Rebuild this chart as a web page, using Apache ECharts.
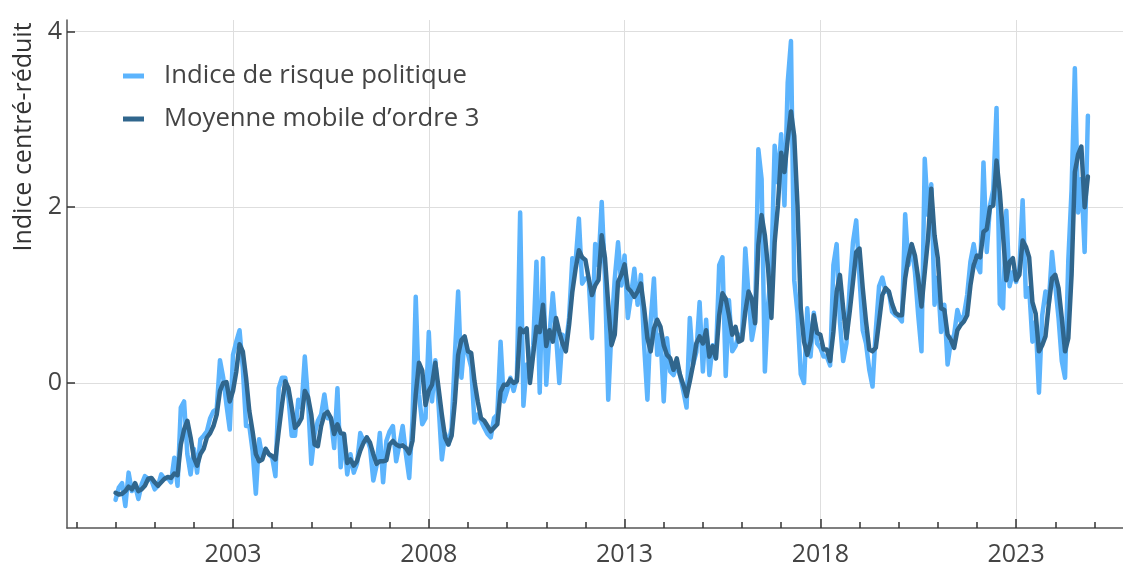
<!DOCTYPE html>
<html><head><meta charset="utf-8">
<script src="https://cdn.jsdelivr.net/npm/echarts@6/dist/echarts.min.js"></script>
<style>html,body{margin:0;padding:0;background:#fff}#c{width:1123px;height:567px}</style>
</head><body><div id="c"></div>
<script>
// Monthly data, first month = January 2000
const startYear = 2000;
const seriesNames = ['Indice de risque politique', 'Moyenne mobile d’ordre 3'];

const indexValues = [
-1.33,-1.19,-1.14,-1.40,-1.02,-1.23,-1.17,-1.32,-1.15,-1.06,
-1.09,-1.11,-1.21,-1.17,-1.04,-1.09,-1.08,-1.13,-0.85,-1.17,
-0.28,-0.21,-0.81,-1.04,-0.75,-1.02,-0.64,-0.60,-0.55,-0.40,
-0.32,-0.30,0.26,0.06,-0.25,-0.53,0.32,0.47,0.60,0.17,
-0.49,-0.49,-0.77,-1.26,-0.64,-0.85,-0.75,-0.81,-0.85,-1.06,
-0.06,0.06,0.06,-0.17,-0.60,-0.60,-0.19,-0.28,0.30,-0.20,
-0.92,-0.58,-0.43,-0.36,-0.13,-0.40,-0.40,-0.74,-0.06,-0.96,
-0.58,-1.04,-0.81,-1.02,-0.92,-0.57,-0.66,-0.62,-0.74,-1.11,
-0.94,-0.57,-1.13,-0.66,-0.55,-0.49,-0.89,-0.70,-0.49,-0.81,
-1.08,-0.43,0.98,-0.13,-0.47,-0.40,0.58,-0.21,0.26,-0.25,
-0.87,-0.58,-0.70,-0.51,0.32,1.04,0.06,0.51,0.33,0.18,
-0.45,-0.36,-0.43,-0.51,-0.58,-0.62,-0.40,-0.36,0.47,-0.21,
-0.09,0.06,-0.09,0.06,1.94,-0.26,0.21,0.06,0.43,1.38,
-0.11,1.42,-0.02,0.55,1.02,0.55,0.00,0.55,0.43,0.74,
1.42,1.38,1.87,1.13,1.19,1.19,0.51,1.58,1.34,2.06,
1.19,-0.19,0.62,1.19,1.60,1.11,1.45,0.74,1.00,1.30,
0.89,1.23,0.43,-0.19,0.70,1.19,0.32,0.55,-0.21,0.51,
0.13,0.09,0.21,0.09,-0.09,-0.28,0.74,0.21,0.35,0.92,
0.13,0.72,0.09,0.43,0.28,1.34,1.43,0.08,0.94,0.36,
0.42,0.55,0.50,1.53,1.00,0.49,0.70,2.66,2.32,0.13,
0.90,1.30,2.70,2.28,2.83,2.02,3.42,3.89,1.17,0.80,
0.10,0.00,0.85,0.30,0.80,0.45,0.40,0.30,0.30,0.20,
1.34,1.58,0.70,0.25,0.45,1.10,1.60,1.85,1.20,0.60,
0.45,0.15,-0.04,0.60,1.10,1.20,1.04,1.04,0.81,0.77,
0.75,0.70,1.92,1.34,1.57,1.26,0.77,0.36,2.55,1.91,
2.26,0.89,1.20,0.58,0.89,0.21,0.47,0.55,0.83,0.70,
0.77,1.00,1.38,1.58,1.34,1.26,2.51,1.49,2.02,2.20,
3.13,0.90,0.85,1.96,1.10,1.26,1.15,1.30,2.08,0.98,
1.08,0.47,0.70,-0.11,0.77,1.04,0.90,1.49,1.11,0.74,
0.25,0.06,1.40,2.20,3.58,1.94,2.32,1.49,3.04
];

const movingAverage = [
-1.25,-1.27,-1.26,-1.23,-1.18,-1.21,-1.14,-1.23,-1.21,-1.17,
-1.09,-1.08,-1.13,-1.17,-1.13,-1.09,-1.07,-1.08,-1.03,-1.05,
-0.70,-0.53,-0.43,-0.62,-0.85,-0.94,-0.81,-0.75,-0.62,-0.57,
-0.49,-0.36,-0.09,0.00,0.01,-0.21,-0.09,0.13,0.44,0.36,
0.06,-0.32,-0.55,-0.81,-0.89,-0.87,-0.75,-0.81,-0.83,-0.87,
-0.55,-0.25,0.02,-0.06,-0.28,-0.51,-0.47,-0.40,-0.09,-0.16,
-0.36,-0.70,-0.72,-0.49,-0.36,-0.33,-0.40,-0.58,-0.47,-0.57,
-0.58,-0.91,-0.87,-0.94,-0.89,-0.77,-0.68,-0.62,-0.68,-0.81,
-0.92,-0.89,-0.89,-0.88,-0.70,-0.66,-0.70,-0.72,-0.71,-0.74,
-0.80,-0.66,-0.13,0.23,0.14,-0.25,-0.09,-0.02,0.23,-0.06,
-0.36,-0.62,-0.70,-0.60,-0.21,0.32,0.49,0.53,0.36,0.34,
0.02,-0.21,-0.40,-0.43,-0.49,-0.55,-0.51,-0.47,-0.10,-0.02,
-0.02,0.04,0.00,0.02,0.62,0.58,0.62,0.00,0.32,0.64,
0.58,0.89,0.42,0.60,0.47,0.74,0.58,0.45,0.36,0.66,
1.04,1.30,1.51,1.43,1.40,1.19,1.00,1.11,1.17,1.68,
1.42,0.89,0.43,0.55,1.15,1.23,1.35,1.08,1.04,0.98,
1.04,1.13,0.85,0.51,0.36,0.62,0.72,0.64,0.43,0.32,
0.28,0.15,0.28,0.09,-0.02,-0.15,0.02,0.21,0.45,0.53,
0.45,0.60,0.30,0.42,0.28,0.77,1.02,0.96,0.77,0.55,
0.64,0.47,0.49,0.81,1.04,0.96,0.68,1.57,1.91,1.68,
1.30,0.74,1.60,2.02,2.62,2.40,2.77,3.09,2.81,2.02,
0.85,0.47,0.32,0.47,0.77,0.57,0.55,0.38,0.38,0.25,
0.58,1.04,1.23,0.85,0.51,0.81,1.15,1.49,1.53,1.08,
0.70,0.38,0.36,0.40,0.70,1.00,1.08,1.04,0.90,0.80,
0.77,0.77,1.19,1.42,1.58,1.45,1.19,0.87,1.26,1.64,
2.21,1.68,1.42,0.85,0.83,0.55,0.49,0.40,0.60,0.66,
0.70,0.77,1.11,1.34,1.45,1.43,1.72,1.75,2.00,2.02,
2.53,2.17,1.68,1.17,1.38,1.42,1.17,1.23,1.62,1.55,
1.43,0.92,0.79,0.36,0.43,0.53,0.89,1.19,1.23,1.08,
0.74,0.36,0.51,1.23,2.40,2.60,2.69,2.00,2.35
];

const yearTicks = [1999,2000,2001,2002,2003,2004,2005,2006,2007,2008,2009,2010,2011,2012,2013,2014,2015,2016,2017,2018,2019,2020,2021,2022,2023,2024,2025];
const yearLabels = [2003, 2008, 2013, 2018, 2023];
const yTicks = [0, 2, 4];

const lightColor = '#5cb4fd';
const darkColor = '#30668d';
const xMin = 1998.76, xMax = 2025.73;
const yMin = -1.65, yMax = 4.13;
const font = 'Open Sans';

const toPoints = arr => arr.map((v, i) => [startYear + i / 12, v]);

const chart = echarts.init(document.getElementById('c'), null, {renderer: 'canvas'});
chart.setOption({
  animation: false,
  backgroundColor: '#ffffff',
  textStyle: {fontFamily: font},
  grid: {left: 67, right: 0, top: 20, bottom: 36.5},
  legend: {
    orient: 'vertical', left: 123, top: 63, padding: 0,
    itemWidth: 21, itemHeight: 5, itemGap: 17,
    textStyle: {fontSize: 25.7, color: '#444', fontFamily: font, padding: [0, 0, 0, 15], lineHeight: 26},
    data: [
      {name: seriesNames[0], icon: 'rect', itemStyle: {color: lightColor}},
      {name: seriesNames[1], icon: 'rect', itemStyle: {color: darkColor}}
    ]
  },
  xAxis: [
    {
      type: 'value', min: xMin, max: xMax,
      axisLine: {show: true, onZero: false, lineStyle: {color: '#555', width: 1.5}},
      axisTick: {show: true, inside: true, length: 6, customValues: yearTicks, lineStyle: {color: '#333', width: 1.5}},
      axisLabel: {show: true, customValues: yearLabels, formatter: v => String(Math.round(v)), fontSize: 25, color: '#444', margin: 14, fontFamily: font},
      splitLine: {show: false}
    },
    {
      type: 'value', min: xMin, max: xMax, position: 'bottom', offset: 0,
      axisLine: {show: false, onZero: false},
      axisTick: {show: true, inside: true, length: 9, customValues: yearLabels, lineStyle: {color: '#333', width: 1.5}},
      axisLabel: {show: false},
      splitLine: {show: true, lineStyle: {color: '#dedede', width: 1}}
    }
  ],
  yAxis: {
    type: 'value', min: yMin, max: yMax,
    axisLine: {show: true, onZero: false, lineStyle: {color: '#555', width: 1.5}},
    axisTick: {show: true, inside: true, length: 8, customValues: yTicks, lineStyle: {color: '#333', width: 1.5}},
    axisLabel: {customValues: yTicks, fontSize: 25, color: '#444', margin: 5, verticalAlign: 'middle', padding: [0, 0, 16, 0], fontFamily: font},
    splitLine: {show: true, lineStyle: {color: '#dedede', width: 1}},
    name: 'Indice centré-réduit', nameLocation: 'middle', nameGap: 30, nameRotate: 90,
    nameTextStyle: {fontSize: 25, color: '#333', fontFamily: font, padding: [0, 0, 0, 274]}
  },
  series: [
    {
      type: 'line', name: seriesNames[0], xAxisIndex: 0, data: toPoints(indexValues),
      symbol: 'none', showSymbol: false,
      lineStyle: {color: lightColor, width: 4.5, join: 'round', cap: 'round'},
      itemStyle: {color: lightColor}, z: 2
    },
    {
      type: 'line', name: seriesNames[1], xAxisIndex: 0, data: toPoints(movingAverage),
      symbol: 'none', showSymbol: false,
      lineStyle: {color: darkColor, width: 4.5, join: 'round', cap: 'round'},
      itemStyle: {color: darkColor}, z: 3
    }
  ]
});
</script></body></html>
